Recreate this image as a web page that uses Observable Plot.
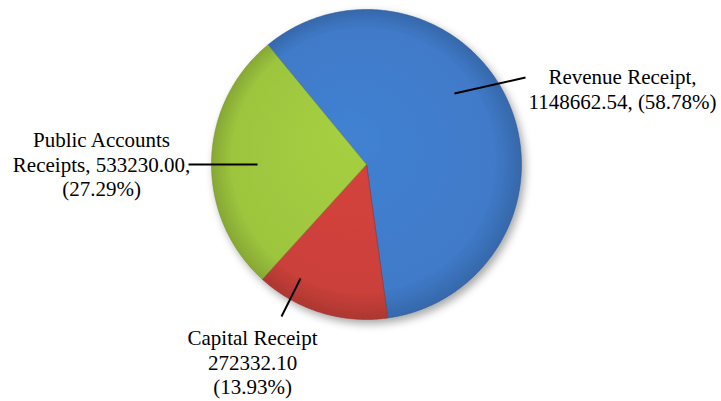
<!DOCTYPE html>
<html>
<head>
<meta charset="utf-8">
<script src="https://cdn.jsdelivr.net/npm/d3@7"></script>
<script src="https://cdn.jsdelivr.net/npm/@observablehq/plot@0.6"></script>
<style>
  html, body { margin: 0; padding: 0; background: #fff; }
  #chart svg { display: block; }
  #chart svg text { font-family: "Liberation Serif", "Times New Roman", serif; }
</style>
</head>
<body>
<div id="chart"></div>
<script>
// ---- data ----
const categories = ["Revenue Receipt", "Capital Receipt", "Public Accounts Receipts"];
const amounts = [1148662.54, 272332.10, 533230.00];
const shares = [58.78, 13.93, 27.29];
const labelTexts = [
  "Revenue Receipt,\n1148662.54, (58.78%)",
  "Capital Receipt\n272332.10\n(13.93%)",
  "Public Accounts\nReceipts, 533230.00,\n(27.29%)"
];
const sliceColors = ["#3f7ac8", "#cb403a", "#9dc53e"];

// ---- layout (pixels) ----
const W = 721, H = 401;
const CX = 366, CY = 164, R = 155;
const startDeg = -39.5;
// label block centres and leader lines (pixels)
const labelPos = [[622, 88], [252, 361], [101, 163]];
const leaders = [[[454, 93], [525, 77]], [[300, 278], [281, 316]], [[188, 164], [257, 164]]];

// unit-circle coordinates -> Plot scales
const xDomain = [-CX / R, (W - CX) / R];
const yDomain = [(CY - H) / R, CY / R];
const ux = px => (px - CX) / R;
const uy = py => (CY - py) / R;

const pie = d3.pie().sort(null).value(d => d.value)
  .startAngle(startDeg * Math.PI / 180)
  .endAngle(startDeg * Math.PI / 180 + 2 * Math.PI);
const rows = categories.map((c, i) => ({name: c, value: shares[i], amount: amounts[i], idx: i}));
const arcs = pie(rows);

const slicePts = [];
arcs.forEach(a => {
  const n = Math.max(8, Math.ceil((a.endAngle - a.startAngle) / 0.01));
  slicePts.push({idx: a.data.idx, x: 0, y: 0});
  for (let k = 0; k <= n; k++) {
    const t = a.startAngle + (a.endAngle - a.startAngle) * k / n;
    slicePts.push({idx: a.data.idx, x: Math.sin(t), y: Math.cos(t)});
  }
  slicePts.push({idx: a.data.idx, x: 0, y: 0});
});

const labels = labelTexts.map((t, i) => ({text: t, x: ux(labelPos[i][0]), y: uy(labelPos[i][1])}));
const links = leaders.map(l => ({x1: ux(l[0][0]), y1: uy(l[0][1]), x2: ux(l[1][0]), y2: uy(l[1][1])}));

const chart = Plot.plot({
  width: W, height: H,
  margin: 0,
  x: {domain: xDomain, axis: null},
  y: {domain: yDomain, axis: null},
  style: {background: "#fff"},
  marks: [
    Plot.line(slicePts, {
      x: "x", y: "y", z: "idx",
      fill: d => `url(#grad${d.idx})`,
      stroke: d => d3.color(sliceColors[d.idx]).darker(0.8).formatHex(),
      strokeWidth: 1, strokeOpacity: 0.6, strokeLinejoin: "round"
    }),
    Plot.link(links, {x1: "x1", y1: "y1", x2: "x2", y2: "y2", stroke: "#000", strokeWidth: 2}),
    Plot.text(labels, {
      x: "x", y: "y", text: "text",
      fontSize: 21, lineHeight: 1.19, fill: "#000",
      fontFamily: "Liberation Serif",
      textAnchor: "middle", lineAnchor: "middle"
    })
  ]
});

// gradient + shadow definitions
const svg = d3.select(chart);
const defs = svg.insert("defs", ":first-child");
sliceColors.forEach((c, i) => {
  const base = d3.color(c);
  const g = defs.append("radialGradient").attr("id", `grad${i}`)
    .attr("gradientUnits", "userSpaceOnUse")
    .attr("cx", CX).attr("cy", CY).attr("r", R)
    .attr("fx", CX - 20).attr("fy", CY - 30);
  g.append("stop").attr("offset", "0%").attr("stop-color", base.brighter(0.15).formatHex());
  g.append("stop").attr("offset", "85%").attr("stop-color", base.formatHex());
  g.append("stop").attr("offset", "100%").attr("stop-color", base.darker(0.45).formatHex());
});
const f = defs.append("filter").attr("id", "shadow")
  .attr("x", "-20%").attr("y", "-20%").attr("width", "140%").attr("height", "140%");
f.append("feDropShadow").attr("dx", 3).attr("dy", 4).attr("stdDeviation", 4)
  .attr("flood-color", "#000").attr("flood-opacity", 0.35);
svg.select("g[aria-label='line']").attr("filter", "url(#shadow)");

document.getElementById("chart").appendChild(chart);
</script>
</body>
</html>
